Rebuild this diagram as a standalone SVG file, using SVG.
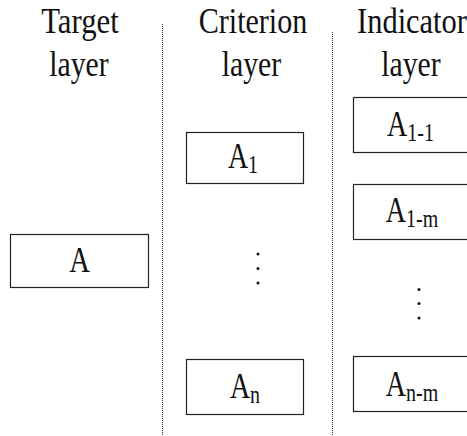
<svg xmlns="http://www.w3.org/2000/svg" width="467" height="436" viewBox="0 0 467 436">
<style>
  text { font-family: 'Liberation Serif', 'Times New Roman', serif; fill: #111; text-anchor: middle; font-size: 35px; }
  .sub { font-size: 25px; }
  .box { fill: #fff; stroke: #222; stroke-width: 1.2; }
  .sep { stroke: #333; stroke-width: 1; stroke-dasharray: 1 1; fill: none; }
  .dot { fill: #111; }
</style>
<rect width="467" height="436" fill="#fff"/>
<g id="headings">
  <text transform="translate(80,33) scale(0.88,1)">Target</text>
  <text transform="translate(79,76) scale(0.85,1)">layer</text>
  <text transform="translate(253,33) scale(0.86,1)">Criterion</text>
  <text transform="translate(251.5,76) scale(0.85,1)">layer</text>
  <text transform="translate(412,33) scale(0.87,1)">Indicator</text>
  <text transform="translate(411,76) scale(0.85,1)">layer</text>
</g>
<g id="connectors">
  <line class="sep" x1="162.5" y1="24" x2="162.5" y2="436"/>
  <line class="sep" x1="332.5" y1="32" x2="332.5" y2="436"/>
</g>
<g id="node-A">
  <rect class="box" x="10.5" y="234.5" width="138" height="53"/>
  <text transform="translate(79.5,272) scale(0.82,1)">A</text>
</g>
<g id="node-A1">
  <rect class="box" x="186.5" y="132.5" width="117" height="51"/>
  <text transform="translate(243,168) scale(0.8,1)">A<tspan class="sub" dy="5">1</tspan></text>
</g>
<g id="node-An">
  <rect class="box" x="186.5" y="359.5" width="117" height="55"/>
  <text transform="translate(245,398) scale(0.8,1)">A<tspan class="sub" dy="5">n</tspan></text>
</g>
<g id="node-A1-1">
  <rect class="box" x="353.5" y="97.5" width="125" height="55"/>
  <text transform="translate(410.5,136) scale(0.8,1)">A<tspan class="sub" dy="5">1-1</tspan></text>
</g>
<g id="node-A1-m">
  <rect class="box" x="353.5" y="184.5" width="125" height="55"/>
  <text transform="translate(412,222) scale(0.8,1)">A<tspan class="sub" dy="5">1-m</tspan></text>
</g>
<g id="node-An-m">
  <rect class="box" x="353.5" y="356.5" width="125" height="55"/>
  <text transform="translate(412,396) scale(0.8,1)">A<tspan class="sub" dy="5">n-m</tspan></text>
</g>
<g id="ellipsis-criterion">
  <circle class="dot" cx="258" cy="254" r="1.5"/>
  <circle class="dot" cx="258" cy="268.5" r="1.5"/>
  <circle class="dot" cx="258" cy="283" r="1.5"/>
</g>
<g id="ellipsis-indicator">
  <circle class="dot" cx="419" cy="289.5" r="1.5"/>
  <circle class="dot" cx="419" cy="303.5" r="1.5"/>
  <circle class="dot" cx="419" cy="318" r="1.5"/>
</g>
</svg>
